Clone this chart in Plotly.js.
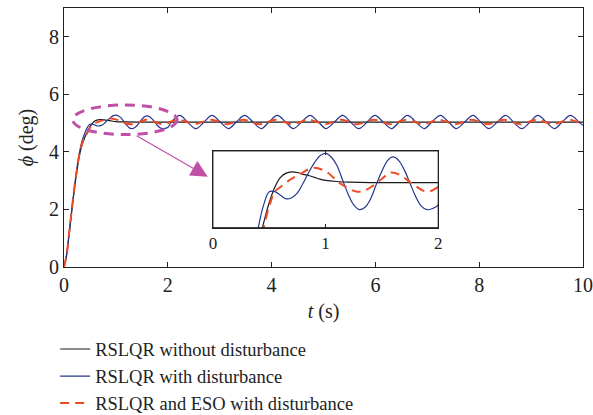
<!DOCTYPE html>
<html><head><meta charset="utf-8">
<script src="https://cdn.plot.ly/plotly-3.0.1.min.js"></script>
<style>body{margin:0;background:#fff}#c{width:593px;height:415px}</style>
</head><body><div id="c"></div>
<script>
// ---- data ----
const seriesNames = ["RSLQR without disturbance", "RSLQR with disturbance", "RSLQR and ESO with disturbance"];

const tBlack = [0,0.05,0.1,0.15,0.2,0.25,0.3,0.35,0.4,0.45,0.5,0.55,0.6,0.65,0.7,0.75,0.8,0.85,0.9,0.95,1.0,1.1,1.2,1.4,10];
const phiBlack = [0,0.4,1.15,1.95,2.7,3.35,3.9,4.25,4.5,4.7,4.87,5.0,5.08,5.115,5.125,5.12,5.105,5.095,5.08,5.065,5.055,5.045,5.04,5.035,5.035];

const tBlue = [0,0.05,0.1,0.15,0.2,0.25,0.3,0.35,0.4,0.45,0.5,0.55,0.6,0.65,0.7,0.75,0.8,0.85,0.9,0.95,1.0,1.05,1.1,1.15,1.2,1.25,1.3,1.35,1.4,1.45,1.5,1.55,1.6,1.65,1.7,1.75,1.8,1.85,1.9,1.95,2.0,2.07,
  2.23,2.38,2.54,2.70,2.85,3.01,3.17,3.32,3.48,3.64,3.80,3.95,4.11,4.27,4.42,4.58,4.74,4.90,5.05,5.21,5.37,5.52,5.68,5.84,5.99,6.15,6.31,6.46,6.62,6.78,6.94,7.09,7.25,7.41,7.56,7.72,7.88,8.03,8.19,8.35,8.51,8.66,8.82,8.98,9.13,9.29,9.45,9.60,9.76,9.92,10.0];
const phiBlue = [0,0.45,1.2,2.0,2.75,3.45,4.0,4.4,4.65,4.85,4.96,4.96,4.93,4.90,4.91,4.95,5.03,5.12,5.2,5.26,5.28,5.25,5.18,5.06,4.94,4.85,4.81,4.83,4.9,5.02,5.13,5.22,5.25,5.22,5.14,5.03,4.92,4.84,4.81,4.82,4.85,5.04,
  5.27,5.04,4.81,5.04,5.27,5.04,4.81,5.04,5.27,5.04,4.81,5.04,5.27,5.04,4.81,5.04,5.27,5.04,4.81,5.04,5.27,5.04,4.81,5.04,5.27,5.04,4.81,5.04,5.27,5.04,4.81,5.04,5.27,5.04,4.81,5.04,5.27,5.04,4.81,5.04,5.27,5.04,4.81,5.04,5.27,5.04,4.81,5.04,5.27,5.04,4.92];

const tRed = [0,0.05,0.1,0.15,0.2,0.25,0.3,0.35,0.4,0.45,0.5,0.55,0.6,0.67,0.78,0.89,1.0,1.13,1.28,1.37,1.49,1.58,1.66,1.78,1.90,2.0,2.04,
  2.20,2.36,2.51,2.67,2.83,2.99,3.14,3.30,3.46,3.61,3.77,3.93,4.08,4.24,4.40,4.56,4.71,4.87,5.03,5.18,5.34,5.50,5.65,5.81,5.97,6.13,6.28,6.44,6.60,6.75,6.91,7.07,7.22,7.38,7.54,7.70,7.85,8.01,8.17,8.32,8.48,8.64,8.79,8.95,9.11,9.26,9.42,9.58,9.74,9.89,10.0];
const phiRed = [0,0.42,1.2,2.0,2.75,3.4,3.95,4.3,4.5,4.66,4.84,4.96,5.0,5.05,5.11,5.16,5.13,5.03,4.96,4.98,5.06,5.12,5.10,5.02,4.96,5.0,5.04,
  5.12,5.04,4.96,5.04,5.12,5.04,4.96,5.04,5.12,5.04,4.96,5.04,5.12,5.04,4.96,5.04,5.12,5.04,4.96,5.04,5.12,5.04,4.96,5.04,5.12,5.04,4.96,5.04,5.12,5.04,4.96,5.04,5.12,5.04,4.96,5.04,5.12,5.04,4.96,5.04,5.12,5.04,4.96,5.04,5.12,5.04,4.96,5.04,5.12,5.04,4.98];

const xTicks = [0,2,4,6,8,10];
const yTicks = [0,2,4,6,8];
const insetTicks = [0,1,2];

// ---- styles ----
const cBlack = "#1a1a1a", cBlue = "#24368f", cRed = "#ef4a26", cMag = "#c24fa6";
const serif = "'Liberation Serif', 'DejaVu Serif', serif";

function traces(xa, ya, legend){
  return [
    {x:tBlack, y:phiBlack, xaxis:xa, yaxis:ya, name:seriesNames[0], mode:"lines", line:{color:cBlack,width:1.2,shape:"spline"}, showlegend:legend},
    {x:tBlue, y:phiBlue, xaxis:xa, yaxis:ya, name:seriesNames[1], mode:"lines", line:{color:cBlue,width:1.2,shape:"spline"}, showlegend:legend},
    {x:tRed, y:phiRed, xaxis:xa, yaxis:ya, name:seriesNames[2], mode:"lines", line:{color:cRed,width:2,dash:"9px,6px",shape:"spline"}, showlegend:legend}
  ];
}
const data = traces("x","y",true).concat(traces("x2","y2",false));

const axCommon = {showgrid:false, zeroline:false, showline:true, linecolor:"#222", linewidth:1, mirror:"ticks",
  ticks:"inside", ticklen:5, tickcolor:"#222", tickfont:{family:serif,size:20,color:"#222"}};

const layout = {
  width:593, height:415, margin:{l:64,r:10,t:8,b:148,autoexpand:false},
  paper_bgcolor:"#fff", plot_bgcolor:"#fff",
  font:{family:serif,color:"#222"},
  xaxis:Object.assign({}, axCommon, {range:[0,10], tickvals:xTicks, ticktext:xTicks.map(String),
    title:{text:"<i>t</i> (s)", font:{family:serif,size:20,color:"#222"}, standoff:8}}),
  yaxis:Object.assign({}, axCommon, {range:[0,9], tickvals:yTicks, ticktext:yTicks.map(String),
    title:{text:"<i>ϕ</i> (deg)", font:{family:serif,size:20,color:"#222"}, standoff:10}}),
  xaxis2:Object.assign({}, axCommon, {domain:[0.287,0.721], anchor:"y2", range:[0,2], tickvals:insetTicks,
    ticktext:insetTicks.map(String), tickfont:{family:serif,size:17,color:"#222"}, ticklen:4}),
  yaxis2:{domain:[0.152,0.448], anchor:"x2", range:[4.66,5.30], showgrid:false, zeroline:false, showline:true,
    linecolor:"#222", mirror:true, ticks:"", showticklabels:false},
  showlegend:true,
  legend:{x:-0.017, y:-0.245, xanchor:"left", yanchor:"top", font:{family:serif,size:18.5,color:"#222"},
    bgcolor:"rgba(0,0,0,0)", tracegroupgap:0, itemwidth:30},
  shapes:[
    {type:"circle", xref:"x", yref:"y", x0:0.17, x1:2.18, y0:4.6, y1:5.63,
      line:{color:cMag, width:3, dash:"10px,7px"}, fillcolor:"rgba(0,0,0,0)"},
    {type:"rect", xref:"x2 domain", yref:"y2 domain", x0:0, x1:1, y0:0, y1:1, line:{color:"#222",width:1}}
  ],
  annotations:[
    {xref:"x", yref:"y", axref:"x", ayref:"y", x:2.77, y:3.14, ax:1.37, ay:4.59, text:"", showarrow:true,
      arrowhead:2, arrowsize:2.8, arrowwidth:1.2, arrowcolor:cMag}
  ]
};
Plotly.newPlot("c", data, layout, {staticPlot:true, displayModeBar:false});
</script></body></html>
